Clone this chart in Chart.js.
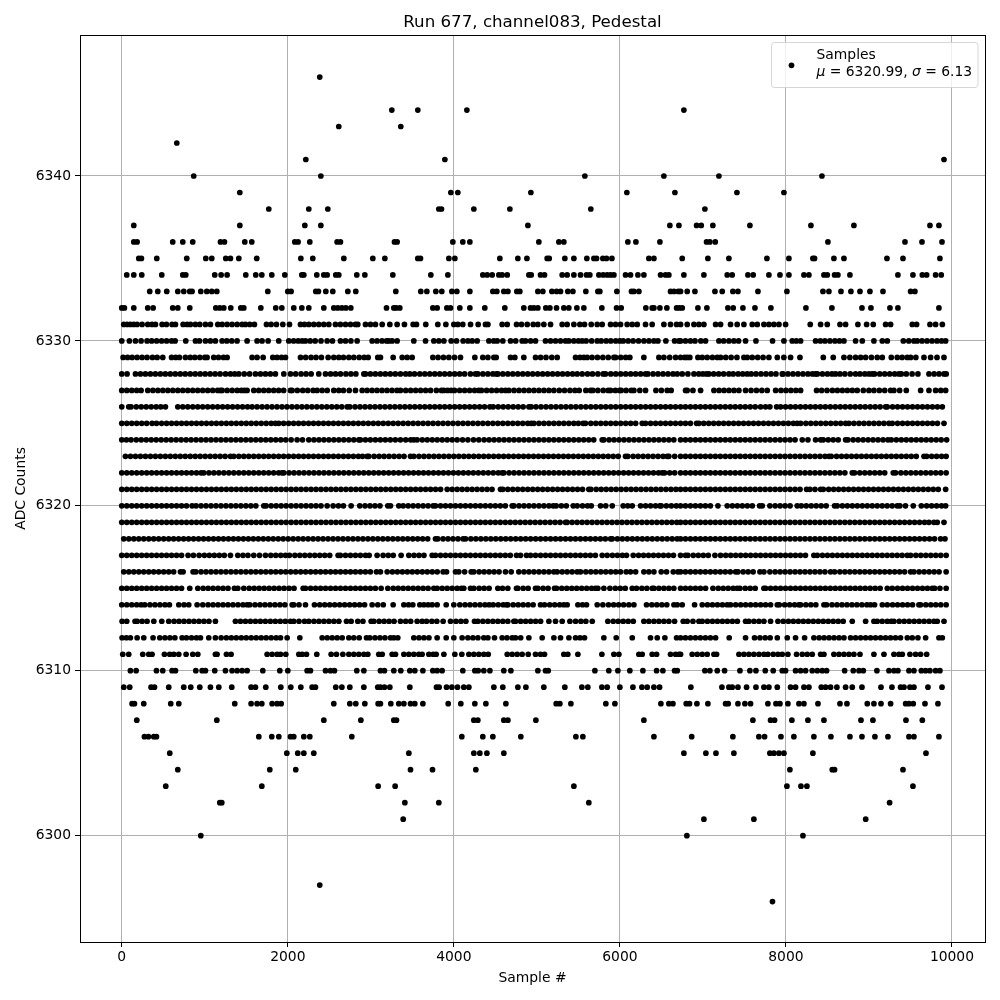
<!DOCTYPE html>
<html><head><meta charset="utf-8">
<style>html,body{margin:0;padding:0;background:#fff}canvas{display:block}</style>
<script src="https://cdn.jsdelivr.net/npm/chart.js@4"></script>
</head><body><canvas id="c" width="1000" height="1000"></canvas>
<script>
const chartTitle="Run 677, channel083, Pedestal";
const xLabel="Sample #";
const yLabel="ADC Counts";
const legendName="Samples";
const xTickValues=[0,2000,4000,6000,8000,10000];
const yTickValues=[6300,6310,6320,6330,6340];
const r6346=[2385];
const r6344=[3253,3566,4157,6771];
const r6343=[2614,3361];
const r6342=[663];
const r6341=[2217,3892,9904];
const r6340=[867,2398,5578,6530,7193,8434];
const r6339=[1422,3964,4048,4928,6084,6663,7410,7976];
const r6338=[1771,2253,2482,3819,3851,4241,4675,5650,7024];
const r6337=[145,1422,2205,2398,4892,6602,6711,6924,6980,7120,7566,8301,8819,9735,9843];
const r6336=[145,185,614,735,855,1189,1237,1482,1566,2084,2124,2265,2594,2634,3285,3317,3988,4108,4193,5024,5265,5325,6096,6193,6482,7044,7084,7149,8506,9434,9639,9880];
const r6335=[205,237,422,783,1012,1084,1253,1309,1410,1626,2157,2301,2675,3024,3169,3566,3598,3940,4012,4554,4771,4880,5124,5149,5337,5446,5602,5687,5719,5795,5839,5904,6349,6410,6751,7060,7313,7771,8036,8325,8345,8578,8699,9217,9410,9855];
const r6334=[60,145,241,482,735,771,1120,1197,1269,1494,1614,1687,1807,1964,2169,2193,2349,2434,2474,2578,2614,2831,2928,3265,3723,3928,4349,4402,4462,4542,4582,4643,4904,4932,5044,5092,5305,5365,5446,5526,5598,5638,5747,5799,5847,5888,5928,6068,6128,6217,6289,6490,6550,6590,6771,7012,7293,7353,7542,7606,7795,7928,8036,8217,8277,8458,8498,8586,8626,8771,9349,9530,9643,9695,9803,9871];
const r6333=[337,434,542,675,747,819,847,952,1024,1084,1145,1759,2000,2040,2337,2369,2458,2542,2723,2819,3301,3602,3675,3783,3855,3976,4036,4193,4470,4518,4602,4651,4759,4795,5012,5072,5181,5237,5285,5373,5434,5590,5735,5759,5964,6140,6169,6229,6610,6651,6703,6731,6811,6904,7145,7233,7361,7422,7663,8012,8446,8518,8663,8783,8892,9012,9169,9502,9554];
const r6332=[0,32,145,313,378,614,675,819,1133,1181,1229,1313,1434,1470,1675,1855,1928,2072,2169,2253,2434,2554,2602,2651,2699,2759,3189,3277,3305,3349,3747,3799,3916,3960,4072,4193,4373,4614,4843,4924,4964,5012,5108,5157,5237,5325,5385,5482,5566,5783,5960,6016,6313,6389,6410,6482,6566,6683,6715,6751,6940,7048,7301,7365,7482,7627,7819,8241,8554,8916,9024,9253,9349,9843];
const r6331=[24,64,104,145,185,245,313,365,406,486,538,606,647,739,787,827,887,940,1008,1068,1157,1209,1269,1329,1390,1450,1490,1542,1598,1743,1799,1863,1940,2020,2153,2201,2253,2313,2373,2434,2494,2574,2634,2695,2755,2815,2843,2936,2996,3056,3137,3229,3317,3405,3510,3550,3662,3807,3904,4000,4048,4108,4201,4293,4381,4410,4582,4643,4755,4815,4884,4956,5012,5084,5165,5305,5365,5446,5518,5574,5655,5727,5787,5888,5948,6008,6088,6149,6209,6309,6389,6530,6610,6683,6731,6811,6892,6952,7012,7153,7213,7333,7413,7494,7594,7655,7735,7795,7855,7916,7996,8293,8418,8498,8651,8719,8867,8972,9052,9201,9261,9522,9574,9735,9803,9884];
const r6330=[0,92,165,233,305,360,420,480,540,600,643,771,888,936,1008,1068,1128,1209,1265,1325,1389,1510,1630,1690,1763,1891,2012,2070,2125,2173,2213,2270,2330,2400,2474,2538,2634,2695,2760,2835,3016,3075,3135,3190,3217,3257,3317,3518,3659,3759,3819,3880,3968,4032,4112,4170,4221,4281,4422,4480,4522,4590,4683,4745,4823,4863,4925,4984,5104,5165,5225,5285,5345,5386,5445,5500,5546,5594,5660,5727,5775,5835,5890,5950,6000,6040,6100,6160,6225,6290,6350,6410,6458,6554,6659,6711,6731,6790,6850,6905,6975,7032,7193,7250,7313,7373,7430,7514,7639,7839,7976,8076,8125,8177,8357,8415,8470,8530,8590,8645,8699,8839,8920,9060,9161,9221,9414,9480,9542,9582,9640,9700,9760,9820,9875,9924];
const r6329=[16,70,125,185,245,305,370,426,494,600,650,695,767,825,880,940,1000,1028,1108,1165,1225,1269,1570,1630,1703,1819,1871,1925,1972,2153,2215,2280,2340,2405,2486,2554,2614,2670,2735,2795,2860,2920,2968,3084,3116,3269,3378,3438,3498,3747,3810,3875,3940,4008,4080,4253,4349,4410,4482,4510,4683,4735,4843,4984,5045,5110,5180,5245,5466,5520,5566,5606,5665,5730,5795,5860,5928,5948,6010,6070,6120,6289,6470,6530,6600,6671,6731,6780,6811,6843,6940,6992,7052,7115,7173,7213,7275,7340,7410,7494,7534,7594,7660,7725,7795,7896,7975,8056,8169,8450,8570,8699,8770,8839,8900,8960,9030,9100,9161,9269,9341,9400,9462,9502,9565,9663,9743,9820,9904];
const r6328=[0,64,165,225,285,345,405,465,525,585,645,705,765,825,885,945,1005,1065,1125,1185,1250,1309,1361,1410,1475,1540,1610,1671,1731,1790,1851,1952,2032,2095,2160,2220,2281,2373,2454,2515,2575,2635,2700,2760,2820,2916,2936,2995,3055,3115,3175,3235,3295,3357,3420,3470,3526,3590,3650,3710,3770,3830,3890,3950,4010,4070,4130,4200,4261,4289,4350,4410,4470,4514,4530,4590,4650,4710,4770,4830,4890,4950,5010,5070,5130,5190,5250,5310,5370,5430,5486,5546,5610,5670,5735,5799,5827,5890,5950,6010,6070,6130,6190,6250,6309,6337,6400,6460,6520,6580,6640,6691,6751,6819,6892,6950,7000,7044,7072,7130,7190,7250,7313,7365,7425,7480,7534,7582,7640,7700,7760,7820,7880,7956,7964,8025,8085,8145,8205,8265,8320,8357,8378,8440,8500,8555,8598,8651,8710,8775,8839,8892,8950,9000,9040,9068,9130,9190,9250,9310,9361,9390,9450,9520,9590,9723,9785,9845,9905,9930];
const r6327=[0,60,120,180,233,313,375,435,495,555,615,675,735,795,855,915,975,1035,1095,1155,1189,1209,1270,1330,1390,1440,1478,1510,1590,1650,1710,1770,1830,1890,1950,2032,2052,2115,2180,2240,2305,2353,2414,2475,2554,2614,2670,2740,2815,2896,2955,3015,3075,3135,3195,3255,3315,3357,3420,3480,3540,3600,3660,3720,3790,3851,3880,3925,3968,4008,4070,4130,4190,4250,4301,4333,4395,4455,4515,4575,4622,4663,4725,4785,4845,4905,4965,5025,5085,5145,5205,5270,5333,5398,5458,5510,5590,5647,5675,5735,5800,5859,5888,5945,5996,6016,6075,6137,6169,6240,6309,6434,6500,6570,6618,6791,6811,6880,6972,7133,7195,7255,7315,7375,7434,7514,7580,7645,7710,7775,7876,7940,8000,8060,8120,8177,8369,8430,8495,8560,8620,8680,8740,8800,8859,8932,9000,9060,9125,9190,9261,9301,9370,9450,9623,9723,9803,9865,9924];
const r6326=[0,84,112,175,235,295,355,415,470,526,675,735,795,855,915,975,1035,1095,1155,1215,1275,1335,1395,1455,1515,1570,1630,1690,1750,1810,1870,1930,1990,2050,2110,2170,2230,2290,2350,2410,2470,2530,2590,2650,2715,2747,2810,2870,2930,2990,3050,3110,3170,3230,3290,3350,3410,3470,3530,3590,3650,3710,3770,3830,3890,3950,4010,4070,4130,4190,4250,4310,4370,4434,4474,4535,4595,4655,4715,4775,4835,4904,4932,4990,5050,5110,5170,5230,5290,5350,5410,5470,5530,5590,5650,5710,5770,5830,5890,5950,6010,6070,6130,6190,6250,6310,6370,6430,6490,6550,6610,6670,6731,6790,6850,6910,6970,7030,7090,7150,7210,7270,7330,7390,7450,7510,7570,7630,7695,7755,7807,7888,7936,7996,8055,8115,8175,8235,8295,8355,8415,8475,8535,8595,8655,8715,8775,8835,8895,8955,9015,9075,9135,9201,9221,9285,9345,9405,9465,9525,9585,9645,9705,9765,9825,9884];
const r6325=[0,60,120,180,240,300,365,418,480,540,600,660,720,780,840,900,960,1020,1080,1140,1200,1260,1320,1380,1440,1500,1560,1620,1680,1740,1800,1851,1891,1950,2010,2070,2130,2190,2250,2310,2370,2430,2490,2550,2610,2670,2730,2790,2850,2910,2970,3030,3090,3150,3210,3270,3330,3390,3450,3510,3570,3630,3690,3750,3810,3870,3930,3990,4050,4110,4170,4230,4290,4350,4410,4470,4530,4590,4650,4710,4770,4830,4890,4932,4964,5025,5085,5145,5205,5265,5325,5385,5445,5500,5558,5586,5650,5710,5770,5830,5890,5950,6010,6070,6130,6190,6269,6309,6370,6430,6490,6550,6610,6670,6731,6790,6850,6924,6952,7010,7070,7130,7190,7250,7310,7370,7430,7490,7550,7610,7670,7730,7790,7850,7910,7970,8030,8090,8136,8177,8240,8300,8360,8420,8480,8540,8600,8660,8719,8759,8819,8880,8940,9000,9060,9120,9180,9241,9281,9345,9405,9465,9525,9585,9645,9705,9765,9825,9904];
const r6324=[0,56,112,175,235,295,355,415,475,535,595,655,715,775,835,895,955,1015,1075,1135,1195,1255,1315,1375,1435,1495,1555,1615,1675,1735,1795,1855,1915,1975,2040,2112,2177,2253,2315,2375,2435,2495,2555,2615,2675,2735,2795,2855,2875,2935,2995,3055,3115,3175,3235,3295,3357,3420,3480,3518,3558,3620,3680,3740,3800,3860,3920,3980,4040,4105,4169,4237,4301,4365,4425,4485,4545,4605,4665,4725,4785,4845,4905,4965,5025,5085,5145,5205,5265,5325,5385,5445,5505,5565,5625,5685,5787,5807,5870,5930,5990,6050,6110,6170,6230,6290,6350,6410,6470,6530,6590,6650,6731,6790,6850,6910,6970,7030,7090,7150,7210,7270,7330,7390,7450,7510,7570,7630,7690,7750,7810,7870,7930,7990,8050,8110,8197,8265,8357,8418,8450,8510,8570,8630,8719,8747,8810,8870,8930,8990,9050,9110,9170,9229,9269,9330,9390,9450,9510,9570,9630,9690,9750,9810,9870,9936];
const r6323=[44,105,165,225,285,345,405,465,525,585,645,705,765,825,885,945,1005,1065,1125,1185,1245,1309,1349,1410,1470,1530,1590,1650,1710,1770,1830,1890,1950,2010,2070,2130,2190,2250,2310,2370,2430,2490,2550,2610,2670,2730,2790,2850,2900,2956,2976,3040,3100,3160,3220,3280,3340,3400,3478,3518,3580,3640,3700,3760,3820,3880,3940,4000,4060,4120,4180,4240,4300,4360,4420,4480,4540,4600,4660,4720,4780,4840,4900,4960,5020,5080,5140,5200,5260,5320,5380,5440,5500,5560,5620,5680,5740,5800,5860,5920,5980,6068,6096,6160,6220,6280,6340,6400,6460,6520,6570,6590,6660,6731,6790,6850,6910,6970,7030,7090,7150,7210,7270,7330,7390,7450,7510,7570,7630,7690,7750,7810,7870,7930,7990,8050,8110,8170,8230,8290,8350,8410,8470,8518,8546,8610,8670,8730,8790,8850,8910,8970,9030,9090,9150,9210,9270,9330,9390,9450,9510,9570,9663,9695,9755,9815,9875,9930];
const r6322=[0,60,120,180,240,300,360,420,480,540,600,660,720,780,840,900,956,988,1050,1110,1170,1230,1290,1350,1410,1470,1530,1590,1650,1710,1770,1830,1890,1932,1952,2015,2075,2135,2195,2255,2315,2375,2435,2495,2555,2615,2675,2735,2795,2855,2915,2975,3035,3095,3155,3215,3275,3335,3395,3455,3515,3575,3635,3695,3755,3815,3875,3935,3995,4055,4115,4175,4235,4295,4355,4415,4475,4535,4582,4602,4665,4725,4785,4845,4905,4965,5025,5085,5145,5205,5265,5325,5385,5445,5505,5565,5625,5685,5745,5805,5865,5925,5985,6045,6105,6165,6225,6285,6345,6405,6465,6510,6538,6600,6660,6731,6790,6850,6910,6970,7030,7090,7150,7210,7270,7330,7390,7450,7510,7570,7630,7690,7750,7810,7870,7930,7990,8050,8110,8170,8230,8290,8350,8410,8470,8530,8590,8650,8710,8799,8827,8890,8950,9010,9070,9130,9190,9293,9321,9385,9445,9505,9565,9625,9685,9745,9805,9865,9930];
const r6321=[0,60,120,180,240,300,360,420,480,540,600,660,720,780,840,900,960,1020,1080,1140,1200,1260,1320,1380,1440,1500,1560,1620,1680,1740,1800,1860,1920,1980,2040,2100,2160,2220,2280,2340,2400,2460,2520,2580,2640,2700,2760,2820,2880,2940,3000,3060,3120,3180,3240,3300,3360,3420,3480,3540,3600,3660,3720,3780,3840,3920,3980,4040,4100,4160,4220,4280,4340,4400,4460,4562,4590,4650,4710,4770,4830,4890,4950,5010,5070,5130,5190,5250,5310,5370,5430,5490,5550,5626,5651,5715,5775,5835,5895,5955,6015,6075,6135,6195,6255,6315,6375,6435,6495,6555,6615,6675,6731,6790,6850,6910,6970,7030,7090,7150,7210,7270,7330,7390,7450,7510,7570,7630,7690,7750,7810,7870,7930,7990,8050,8110,8170,8249,8289,8350,8418,8450,8515,8575,8635,8695,8755,8815,8875,8935,8995,9055,9115,9175,9235,9295,9355,9415,9475,9535,9595,9655,9715,9775,9835,9924];
const r6320=[0,60,120,180,240,300,360,420,480,540,600,660,720,780,847,895,955,1015,1075,1135,1195,1255,1315,1375,1435,1495,1555,1615,1711,1739,1800,1860,1920,1980,2040,2100,2160,2220,2280,2340,2400,2474,2546,2610,2670,2763,2867,2930,2990,3050,3110,3205,3237,3337,3390,3450,3510,3570,3630,3690,3751,3779,3840,3900,3960,4020,4080,4140,4200,4260,4320,4380,4440,4500,4560,4620,4703,4723,4785,4845,4905,4965,5025,5085,5145,5197,5233,5295,5355,5438,5486,5550,5610,5655,5767,5830,5908,6040,6095,6149,6249,6310,6370,6430,6482,6498,6560,6620,6680,6731,6790,6850,6910,6970,7030,7090,7181,7293,7355,7415,7475,7535,7595,7683,7715,7807,7870,7930,7990,8050,8136,8185,8245,8305,8365,8425,8485,8586,8618,8680,8740,8800,8860,8920,8980,9040,9100,9160,9220,9280,9341,9373,9440,9534,9631,9695,9755,9815,9875,9924];
const r6319=[0,60,120,180,240,300,360,420,480,540,600,660,720,780,840,900,960,1020,1080,1140,1200,1260,1320,1380,1440,1500,1560,1620,1680,1740,1800,1860,1920,1980,2040,2100,2160,2220,2280,2340,2400,2460,2520,2580,2640,2700,2760,2820,2880,2940,3000,3060,3120,3180,3240,3300,3360,3420,3480,3540,3600,3660,3720,3780,3840,3900,3960,4020,4080,4140,4200,4260,4320,4380,4440,4500,4560,4620,4680,4740,4800,4860,4920,4980,5040,5100,5160,5220,5280,5345,5365,5425,5485,5545,5605,5665,5725,5785,5845,5905,5965,6025,6085,6145,6205,6265,6325,6385,6445,6505,6565,6625,6685,6731,6790,6850,6910,6970,7030,7090,7150,7210,7270,7330,7390,7450,7510,7570,7630,7690,7750,7810,7870,7930,7990,8050,8110,8170,8230,8290,8350,8410,8470,8530,8590,8650,8710,8770,8830,8890,8950,9010,9070,9130,9190,9250,9310,9370,9430,9490,9550,9610,9670,9723,9783,9823,9904];
const r6318=[24,85,145,205,265,325,385,445,505,565,625,685,745,805,865,925,985,1045,1105,1165,1225,1285,1345,1405,1465,1525,1585,1645,1705,1765,1825,1885,1945,2005,2065,2125,2185,2245,2305,2365,2425,2485,2545,2605,2665,2725,2785,2845,2905,2965,3025,3085,3145,3205,3265,3325,3385,3445,3505,3565,3625,3685,3779,3807,3870,3930,3990,4050,4112,4141,4205,4265,4325,4385,4445,4505,4565,4625,4685,4745,4805,4865,4925,4985,5045,5105,5165,5225,5285,5345,5405,5465,5525,5585,5645,5705,5765,5825,5888,5908,5970,6030,6090,6150,6210,6270,6330,6390,6450,6510,6570,6630,6690,6731,6790,6850,6910,6970,7030,7090,7150,7210,7270,7330,7390,7450,7510,7570,7630,7690,7750,7810,7870,7930,7990,8050,8110,8170,8230,8290,8350,8410,8470,8530,8590,8650,8710,8770,8830,8890,8950,9010,9070,9130,9190,9250,9310,9370,9430,9490,9550,9610,9670,9730,9790,9863,9916];
const r6317=[0,60,120,180,240,300,360,420,480,540,600,660,720,799,863,932,995,1055,1115,1175,1235,1309,1398,1460,1520,1590,1659,1731,1795,1855,1915,1972,2020,2085,2145,2205,2265,2325,2385,2445,2505,2606,2634,2695,2755,2815,2875,2936,2980,3076,3148,3210,3270,3365,3458,3520,3580,3640,3739,3779,3840,3900,3960,4020,4080,4140,4200,4260,4320,4380,4440,4500,4560,4620,4680,4755,4803,4875,4924,4984,5045,5105,5165,5225,5285,5345,5405,5465,5525,5585,5645,5705,5787,5847,5910,5970,6030,6080,6161,6225,6285,6345,6405,6465,6525,6585,6645,6731,6791,6819,6884,6945,7005,7065,7145,7213,7275,7335,7395,7455,7515,7575,7635,7695,7755,7815,7875,7935,7995,8055,8115,8175,8235,8337,8378,8440,8500,8560,8620,8680,8740,8800,8860,8920,8980,9040,9100,9160,9220,9280,9340,9400,9462,9502,9565,9625,9685,9745,9805,9865,9930];
const r6316=[24,85,145,205,265,325,385,445,505,565,625,707,739,859,892,955,1015,1075,1135,1195,1255,1315,1375,1435,1495,1555,1615,1675,1735,1795,1855,1915,1975,2035,2095,2155,2215,2275,2335,2395,2455,2515,2575,2635,2695,2755,2815,2875,2935,2995,3068,3116,3197,3260,3320,3380,3440,3500,3560,3620,3680,3740,3800,3871,3912,4020,4060,4130,4209,4241,4305,4365,4425,4485,4545,4622,4691,4783,4845,4905,4965,5025,5085,5145,5205,5245,5305,5365,5425,5486,5526,5590,5650,5710,5770,5830,5890,5950,6008,6076,6128,6190,6289,6349,6410,6498,6562,6643,6699,6731,6790,6850,6910,6970,7030,7090,7150,7210,7270,7330,7394,7422,7485,7545,7605,7687,7735,7807,7870,7930,7990,8050,8110,8170,8230,8290,8350,8410,8470,8538,8586,8650,8710,8770,8830,8890,8950,9010,9070,9130,9190,9250,9310,9370,9430,9502,9542,9605,9665,9725,9785,9845,9930];
const r6315=[0,60,120,180,240,300,360,420,480,540,600,660,720,819,916,980,1040,1100,1160,1220,1280,1357,1398,1470,1535,1595,1655,1715,1775,1835,1895,1955,2015,2075,2185,2213,2275,2335,2395,2455,2515,2575,2635,2695,2755,2815,2875,2935,2995,3055,3124,3205,3270,3330,3390,3450,3510,3570,3630,3690,3759,3799,3860,3920,3980,4040,4092,4120,4201,4241,4305,4365,4425,4530,4586,4650,4755,4771,4835,4895,4984,5012,5075,5135,5213,5237,5300,5360,5420,5480,5540,5600,5660,5707,5735,5807,5880,5945,6005,6065,6149,6201,6265,6325,6390,6410,6470,6530,6590,6650,6731,6790,6850,6910,6970,7032,7121,7185,7245,7305,7365,7414,7446,7510,7570,7630,7735,7755,7815,7875,7935,7995,8055,8115,8175,8235,8295,8355,8415,8475,8535,8595,8655,8715,8775,8835,8895,8955,9015,9075,9135,9221,9281,9345,9405,9465,9525,9585,9645,9705,9763,9791,9855,9930];
const r6314=[0,60,120,180,233,277,340,400,460,520,574,687,750,807,908,976,1040,1100,1160,1220,1280,1340,1400,1460,1510,1542,1605,1665,1725,1785,1845,1905,1965,2052,2072,2135,2213,2321,2385,2445,2505,2565,2625,2685,2745,2805,2865,2925,3016,3084,3150,3269,3398,3455,3506,3590,3639,3690,3739,3799,3908,4000,4072,4135,4195,4255,4315,4375,4426,4474,4535,4595,4635,4651,4715,4775,4835,4895,4955,5044,5092,5155,5215,5275,5325,5365,5494,5550,5598,5727,5795,5863,5925,5985,6045,6108,6169,6321,6385,6445,6505,6565,6651,6691,6751,6900,6992,7055,7115,7175,7235,7293,7333,7395,7455,7515,7575,7635,7695,7755,7815,7896,7920,7985,8045,8105,8157,8177,8240,8300,8360,8458,8490,8555,8615,8675,8735,8795,8855,8915,8975,9020,9068,9161,9221,9285,9345,9405,9465,9525,9602,9622,9685,9745,9805,9865,9930];
const r6313=[4,60,160,185,245,305,386,482,566,630,690,750,810,870,930,990,1050,1128,1369,1430,1490,1550,1610,1670,1730,1790,1850,1910,1970,2032,2072,2135,2201,2253,2315,2375,2435,2495,2555,2615,2707,2763,2843,2905,3004,3036,3100,3160,3220,3280,3357,3420,3480,3558,3618,3671,3735,3795,3871,3960,4025,4085,4145,4249,4289,4350,4410,4470,4530,4590,4650,4723,4743,4805,4865,4925,4985,5045,5145,5225,5305,5398,5466,5530,5590,5667,5855,5920,5980,6040,6100,6161,6289,6349,6410,6470,6530,6590,6659,6763,6811,6880,6952,6992,7055,7115,7175,7235,7295,7355,7415,7514,7554,7615,7675,7735,7815,7904,7968,8030,8090,8150,8210,8270,8330,8390,8450,8510,8570,8630,8690,8799,8960,9060,9100,9160,9221,9269,9301,9365,9425,9485,9545,9605,9665,9725,9783,9823,9904];
const r6312=[4,55,104,185,265,377,458,520,580,640,727,779,840,900,948,1048,1128,1197,1260,1320,1380,1440,1500,1560,1620,1680,1740,1800,1860,1912,1992,2145,2414,2475,2535,2595,2655,2735,2795,2860,2948,2988,3050,3110,3170,3237,3277,3325,3518,3580,3640,3700,3799,3908,4000,4100,4169,4230,4290,4361,4410,4490,4582,4640,4703,4743,4805,4904,5064,5205,5285,5386,5466,5520,5574,5807,5956,6149,6369,6450,6542,6683,6731,6790,6850,6910,6970,7030,7090,7153,7317,7514,7622,7687,7750,7810,7896,8016,8116,8225,8337,8400,8460,8520,8580,8640,8699,8779,8839,8900,8960,9020,9080,9140,9200,9260,9320,9380,9462,9522,9590,9683,9843,9884];
const r6311=[12,84,253,325,365,514,578,627,687,775,855,916,1128,1148,1261,1317,1751,1811,1871,1912,1976,2133,2173,2225,2349,2522,2586,2663,2735,2795,2855,2916,2964,3096,3137,3257,3297,3398,3458,3518,3578,3618,3699,3751,3787,3880,4012,4096,4181,4241,4301,4361,4414,4643,4703,4763,4823,4896,4984,5044,5092,5325,5373,5494,5783,5928,5988,6229,6269,6389,6442,6610,6671,6711,6731,6871,6932,6992,7052,7133,7165,7434,7494,7554,7614,7675,7735,7783,7847,7904,7956,8024,8128,8197,8257,8317,8418,8458,8578,8639,8699,8759,8819,8892,9060,9181,9301,9361,9402,9494,9562,9622,9695];
const r6310=[104,173,418,494,606,647,892,968,1008,1120,1249,1329,1390,1450,1510,1699,1904,2000,2233,2273,2454,2514,2562,2831,2916,3116,3164,3277,3361,3470,3530,3627,3747,3799,3859,4108,4253,4293,4361,4434,4602,4687,5012,5104,5137,5699,5867,5976,6120,6277,6442,6518,6659,6691,7024,7084,7173,7261,7446,7566,7639,7751,7847,7956,7996,8116,8177,8237,8317,8378,8438,8490,8707,8811,8880,8932,9096,9241,9301,9349,9482,9542,9631,9683,9735,9803,9855];
const r6309=[24,96,353,394,566,747,831,940,1068,1169,1325,1558,1610,1735,1916,2036,2157,2293,2333,2578,2651,2747,2916,3084,3116,3164,3229,3470,3791,3823,3912,3976,4044,4120,4181,4482,4590,4771,4868,5084,5337,5542,5614,5783,5847,6000,6157,6265,6329,6410,6478,6855,7229,7313,7353,7422,7526,7639,7735,7795,7896,8056,8116,8217,8277,8426,8478,8538,8614,8719,8799,8916,9145,9277,9381,9422,9494,9542,9711,9880];
const r6308=[124,153,265,590,687,1361,1558,1630,1687,1811,1871,1920,2554,2747,2819,2928,3088,3116,3241,3337,3398,3478,3530,3627,3932,4084,4253,4386,4627,5233,5277,5410,5831,5940,6494,6590,6639,6799,6839,6928,7060,7273,7305,7422,7506,7574,7783,7880,7928,8024,8157,8217,8386,8651,8735,8980,9060,9145,9261,9442,9482,9534,9675,9831];
const r6307=[181,1145,2434,2880,3277,3309,4241,4289,4602,4651,4988,6289,7602,7815,7863,8072,8265,8458,8904,9048,9446,9643];
const r6306=[273,321,386,418,1651,1807,1892,2032,2072,2193,2265,2771,4096,4349,4470,4807,5470,5554,6410,6865,7361,7674,7743,7940,8096,8337,8542,8771,8916,9072,9229,9482,9542,9843];
const r6305=[578,1988,2120,2193,2313,3458,4241,4313,4398,4602,6771,7036,7157,7373,7807,7855,7916,7976,8325,9687];
const r6304=[675,1783,2096,3478,3743,4265,8048,8558,8586,9410];
const r6303=[530,1687,3088,3293,5446,8012,8181,8253,9530];
const r6302=[1181,1205,3410,3819,5626,9249];
const r6301=[3390,7012,7614,8961];
const r6300=[952,6807,8205];
const r6297=[2385];
const r6296=[7838];
const rows=[[6346,r6346],[6344,r6344],[6343,r6343],[6342,r6342],[6341,r6341],[6340,r6340],[6339,r6339],[6338,r6338],[6337,r6337],[6336,r6336],[6335,r6335],[6334,r6334],[6333,r6333],[6332,r6332],[6331,r6331],[6330,r6330],[6329,r6329],[6328,r6328],[6327,r6327],[6326,r6326],[6325,r6325],[6324,r6324],[6323,r6323],[6322,r6322],[6321,r6321],[6320,r6320],[6319,r6319],[6318,r6318],[6317,r6317],[6316,r6316],[6315,r6315],[6314,r6314],[6313,r6313],[6312,r6312],[6311,r6311],[6310,r6310],[6309,r6309],[6308,r6308],[6307,r6307],[6306,r6306],[6305,r6305],[6304,r6304],[6303,r6303],[6302,r6302],[6301,r6301],[6300,r6300],[6297,r6297],[6296,r6296]];
const points=rows.flatMap(([level,samples])=>samples.map(s=>({x:s,y:level})));
const FONT='"DejaVu Sans"';
const frame={id:'frame',afterDraw(chart){
  const c=chart.ctx,a=chart.chartArea;
  c.save();
  c.strokeStyle='#000';c.lineWidth=1;
  c.strokeRect(a.left+.5,a.top+.5,a.right-a.left,a.bottom-a.top);
  c.fillStyle='#000';c.textAlign='center';c.textBaseline='alphabetic';
  c.font='16.67px '+FONT;
  c.fillText(chartTitle,(a.left+a.right)/2,27);
  c.beginPath();c.roundRect(771.5,42.5,206.5,45,3);
  c.fillStyle='rgba(255,255,255,0.8)';c.fill();
  c.strokeStyle='rgba(204,204,204,0.8)';c.lineWidth=1;c.stroke();
  c.fillStyle='#000';
  c.beginPath();c.arc(791.5,65.3,2.85,0,Math.PI*2);c.fill();
  c.textAlign='left';
  c.font='13.89px '+FONT;
  c.fillText(legendName,816.5,59);
  let x=816.5;const y=76;
  [['μ',1],[' = 6320.99, ',0],['σ',1],[' = 6.13',0]].forEach(([t,it])=>{
    c.font=(it?'italic ':'')+'13.89px '+FONT;
    c.fillText(t,x,y);x+=c.measureText(t).width;
  });
  c.restore();
}};
new Chart(document.getElementById('c'),{
  type:'scatter',
  data:{datasets:[{label:legendName,data:points,pointRadius:2.85,pointHoverRadius:2.85,pointBorderWidth:0,backgroundColor:'#000',borderColor:'#000',showLine:false}]},
  plugins:[frame],
  options:{
    responsive:false,animation:false,devicePixelRatio:1,
    layout:{padding:{top:35,right:15,left:0,bottom:0}},
    plugins:{legend:{display:false},title:{display:false},tooltip:{enabled:false}},
    scales:{
      x:{type:'linear',min:-503,max:10398,
        afterFit(s){s.height=58},
        afterBuildTicks(s){s.ticks=xTickValues.map(v=>({value:v}))},
        grid:{color:'#b0b0b0',lineWidth:1,tickColor:'#000',tickLength:5},
        border:{color:'#000',width:1},
        ticks:{color:'#000',font:{family:FONT,size:13.89},padding:2,maxRotation:0,callback:v=>String(v)},
        title:{display:true,text:xLabel,color:'#000',font:{family:FONT,size:13.89},padding:{top:3,bottom:13}}},
      y:{type:'linear',min:6293.55,max:6348.55,
        afterFit(s){s.width=80},
        afterBuildTicks(s){s.ticks=yTickValues.map(v=>({value:v}))},
        grid:{color:'#b0b0b0',lineWidth:1,tickColor:'#000',tickLength:5},
        border:{color:'#000',width:1},
        ticks:{color:'#000',font:{family:FONT,size:13.89},padding:4,callback:v=>String(v)},
        title:{display:true,text:yLabel,color:'#000',font:{family:FONT,size:13.89},padding:{top:13,bottom:4}}}
    }
  }
});
</script></body></html>
